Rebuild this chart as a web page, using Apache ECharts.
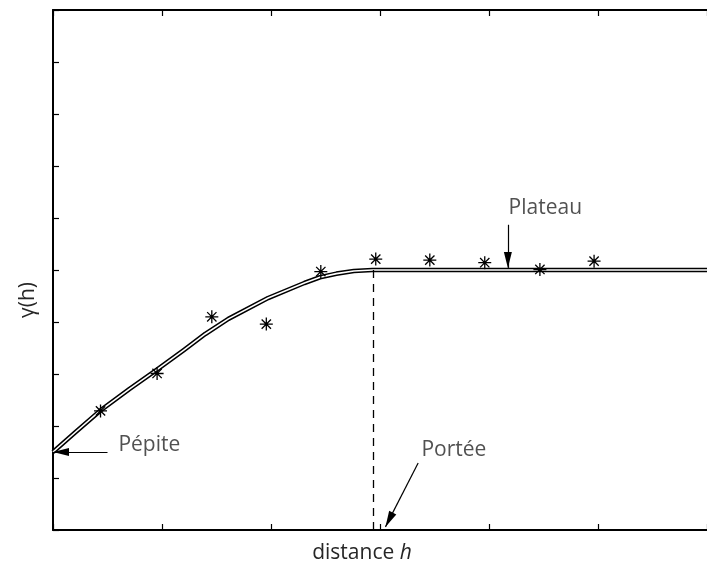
<!DOCTYPE html>
<html><head><meta charset="utf-8">
<script src="https://cdn.jsdelivr.net/npm/echarts@6/dist/echarts.min.js"></script>
<style>html,body{margin:0;padding:0;background:#fff}#c{width:707px;height:575px}</style>
</head><body><div id="c"></div>
<script>
// Fitted (model) variogram curve
const modelH = [0, 0.2, 0.436, 0.7, 0.957, 1.2, 1.397, 1.609, 1.973, 2.306, 2.45, 2.6, 2.76, 2.93, 6];
const modelG = [1.5, 1.87, 2.30, 2.71, 3.09, 3.46, 3.77, 4.06, 4.46, 4.75, 4.86, 4.93, 4.98, 5.0, 5.0];
// Experimental variogram points (asterisks)
const expH = [0.436, 0.955, 1.457, 1.957, 2.457, 2.961, 3.457, 3.961, 4.467, 4.964];
const expG = [2.29, 3.01, 4.10, 3.96, 4.97, 5.21, 5.19, 5.14, 5.01, 5.17];
// Key model parameters
const nugget = 1.5, sill = 5.0, range = 2.94;
// Annotation labels
const labelTexts = ['Pépite', 'Plateau', 'Portée'];
const labelH = [0.6, 4.18, 3.38];
const labelG = [1.635, 6.19, 1.54];

const FONT = '"Open Sans", "Noto Sans", sans-serif';
const TXT = '#262626';
const model = modelH.map((h, i) => [h, modelG[i]]);
const exp = expH.map((h, i) => [h, expG[i]]);
const labels = labelTexts.map((t, i) => [labelH[i], labelG[i], t]);
const arrowEnd = {symbol: 'triangle', symbolSize: [8, 16], symbolOffset: [0, 8]};

const chart = echarts.init(document.getElementById('c'), null, {renderer: 'canvas'});
const axisCommon = {
  min: 0, interval: 1,
  axisLine: {show: true, onZero: false, lineStyle: {color: '#000', width: 2}},
  axisTick: {show: true, inside: true, length: 6, lineStyle: {color: '#000', width: 1.2}},
  axisLabel: {show: false},
  splitLine: {show: false}
};
chart.setOption({
  animation: false,
  backgroundColor: '#fff',
  grid: {left: 53, top: 10, bottom: 45, right: -6, containLabel: false},
  xAxis: [
    Object.assign({}, axisCommon, {type: 'value', max: 6, position: 'bottom',
      name: '{a|distance }{b|h}', nameLocation: 'middle', nameGap: 13,
      nameTextStyle: {padding: [0, 36, 0, 0],
        rich: {a: {fontFamily: FONT, fontSize: 21, color: TXT},
               b: {fontFamily: FONT, fontSize: 21, fontStyle: 'italic', color: TXT}}}}),
    Object.assign({}, axisCommon, {type: 'value', max: 6, position: 'top'})
  ],
  yAxis: Object.assign({}, axisCommon, {type: 'value', max: 10,
    name: 'γ(h)', nameLocation: 'middle', nameGap: 14, nameRotate: 90,
    nameTextStyle: {fontFamily: FONT, fontSize: 21, color: TXT, padding: [0, 60, 0, 0]}}),
  series: [
    {type: 'line', data: model, symbol: 'none', smooth: false, silent: true,
     lineStyle: {color: '#000', width: 4.6, join: 'round'}, z: 2,
     markLine: {
       silent: true, symbol: ['none', 'none'], label: {show: false},
       lineStyle: {color: '#000', width: 1.2, type: 'solid'},
       data: [
         [{coord: [range, sill], lineStyle: {type: [8, 6], width: 1.3}}, {coord: [range, 0]}],
         [{coord: [0.5, nugget]}, Object.assign({coord: [0, nugget]}, arrowEnd)],
         [{coord: [4.173, 5.87]}, Object.assign({coord: [4.173, 5.04]}, arrowEnd)],
         [{coord: [3.35, 1.29]}, Object.assign({coord: [3.05, 0.06]}, arrowEnd)]
       ]
     }},
    {type: 'line', data: model, symbol: 'none', smooth: false, silent: true,
     lineStyle: {color: '#fff', width: 1.6, join: 'round'}, z: 3},
    {type: 'scatter', data: exp, z: 4, silent: true,
     symbol: 'path://M0,-6L0,6M-6,0L6,0M-4.3,-4.3L4.3,4.3M-4.3,4.3L4.3,-4.3',
     symbolSize: 13,
     itemStyle: {color: '#000', borderColor: '#000', borderWidth: 1.3, opacity: 1}},
    {type: 'scatter', data: labels, symbolSize: 0, silent: true, z: 5,
     label: {show: true, position: 'right', distance: 0,
       formatter: p => p.value[2],
       fontFamily: FONT, fontSize: 21, color: TXT}}
  ]
});
</script></body></html>
